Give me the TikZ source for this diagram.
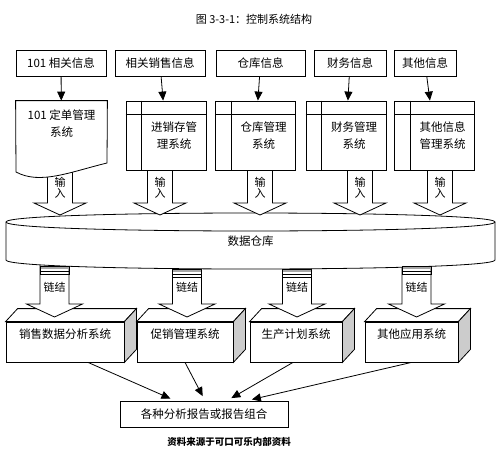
\documentclass[tikz,border=0pt]{standalone}
\usepackage{fontspec}
\setmainfont{Noto Sans CJK SC}
\usetikzlibrary{arrows.meta,positioning}

\begin{document}
\begin{tikzpicture}[x=1pt, y=-1pt, line width=0.8pt,
    infobox/.style={draw, fill=white, minimum height=26pt, inner sep=0pt, font=\fontsize{11.5}{14}\selectfont},
    sysbox/.style={draw, fill=white, minimum width=80pt, minimum height=69pt, inner sep=0pt},
    systext/.style={align=center, inner sep=0pt, font=\fontsize{11.5}{17}\selectfont},
    appbox/.style={draw, fill=white, minimum height=40pt, inner sep=0pt, text height=16.5pt, text depth=23.5pt, font=\fontsize{11.5}{14}\selectfont},
    arrowtext/.style={align=center, inner sep=0pt, font=\fontsize{11}{11.5}\selectfont},
    flow/.style={-{Triangle[length=9pt,width=8pt]}}]
  \useasboundingbox (0,0) rectangle (500,452);

  % application systems (3d boxes)
  \node[appbox, minimum width=118pt] (sales) at (65,342) {销售数据分析系统};
  \node[appbox, minimum width=96pt] (promo) at (185,342) {促销管理系统};
  \node[appbox, minimum width=92pt] (plan) at (296,342) {生产计划系统};
  \node[appbox, minimum width=93pt] (other) at (411.5,342) {其他应用系统};
  \foreach \b in {sales,promo,plan,other} {
    \draw[fill=white] (\b.north west) -- ++(12,-13) -- ([shift={(12,-13)}]\b.north east) -- (\b.north east) -- cycle;
    \draw[fill=gray!40] (\b.north east) -- ++(12,-13) -- ([shift={(12,-13)}]\b.south east) -- (\b.south east) -- cycle;
  }

  % link arrows
  \foreach \c [count=\k] in {54.5,187,297,416.5} {
    \draw[fill=white] ({\c-14.5},255) -- ({\c-14.5},304) -- ({\c-28},304) -- (\c,317) -- ({\c+28},304) -- ({\c+14.5},304) -- ({\c+14.5},255);
    \node[arrowtext] (ln\k) at (\c,287) {链结};
  }

  % data warehouse
  \draw[fill=white] (6,222) -- (6,260) .. controls (6,272) and (495,272) .. (495,260) -- (495,222) .. controls (495,210) and (6,210) .. (6,222) -- cycle;
  \draw (6,222) .. controls (6,234) and (495,234) .. (495,222);
  \node[font=\fontsize{11.5}{14}\selectfont] (dw) at (250.5,241) {数据仓库};
  \foreach \c/\t in {54.5/266,187/269,297/269,416.5/266} {
    \fill[gray!70] ({\c-14.5},\t) rectangle ({\c+14.5},{\t+3});
    \draw ({\c-14.5},\t) rectangle ({\c+14.5},{\t+8});
    \draw ({\c-14.5},{\t+5.5}) -- ({\c+14.5},{\t+5.5});
  }

  % input arrows
  \foreach \c [count=\k] in {60,160,260,360,440} {
    \draw[fill=white] ({\c-12.5},160) -- ({\c-12.5},203) -- ({\c-26},203) -- (\c,215) -- ({\c+26},203) -- ({\c+12.5},203) -- ({\c+12.5},160);
    \node[arrowtext] (in\k) at (\c,188) {输\\入};
  }

  % management systems
  \node[sysbox, minimum width=91pt, draw=none, fill=none] (s1) at (61.5,135.5) {};
  \draw[fill=white] (s1.north west) -- (s1.north east) -- (107,163) .. controls (70,172) and (40,185) .. (16,172) -- cycle;
  \node[systext] (s1t) at (61.5,123.5) {101 定单管理\\系统};
  \node[sysbox] (s2) at (166,135.5) {};
  \node[sysbox] (s3) at (255.5,135.5) {};
  \node[sysbox] (s4) at (346,135.5) {};
  \node[sysbox] (s5) at (434.5,135.5) {};
  \foreach \s in {s2,s3,s4,s5} {
    \draw ([shift={(0,14)}]\s.north west) -- ([shift={(0,14)}]\s.north east);
    \draw ([shift={(16,0)}]\s.north west) -- ([shift={(16,0)}]\s.south west);
  }
  \node[systext] (s2t) at ([shift={(8,0)}]s2.center) {进销存管\\理系统};
  \node[systext] (s3t) at ([shift={(8,0)}]s3.center) {仓库管理\\系统};
  \node[systext] (s4t) at ([shift={(8,0)}]s4.center) {财务管理\\系统};
  \node[systext] (s5t) at ([shift={(8,0)}]s5.center) {其他信息\\管理系统};

  % information sources
  \node[infobox, minimum width=90pt] (i1) at (61,63) {101 相关信息};
  \node[infobox, minimum width=90pt] (i2) at (160,63) {相关销售信息};
  \node[infobox, minimum width=89pt] (i3) at (260.5,63) {仓库信息};
  \node[infobox, minimum width=72pt] (i4) at (350,63) {财务信息};
  \node[infobox, minimum width=62pt] (i5) at (425,63) {其他信息};
  \foreach \k in {1,...,5} {
    \draw[flow] (i\k) -- (s\k);
  }

  % reports
  \node[infobox, minimum width=168pt] (res) at (204,414) {各种分析报告或报告组合};
  \draw[flow, shorten >=5pt] ([shift={(23,0)}]sales.south) -- ([shift={(-29,0)}]res.north);
  \draw[flow, shorten >=5pt] (promo.south) -- ([shift={(1,0)}]res.north);
  \draw[flow, shorten >=5pt] ([shift={(-3,0)}]plan.south) -- ([shift={(23,0)}]res.north);
  \draw[flow, shorten >=5pt] (other.south) -- ([shift={(43,0)}]res.north);

  \node[font=\fontsize{11}{13}\selectfont] (title) at (254,19) {图 3-3-1：控制系统结构};
  \node[font=\bfseries\fontsize{9.5}{11}\selectfont] (src) at (229,442) {资料来源于可口可乐内部资料};
\end{tikzpicture}
\end{document}
